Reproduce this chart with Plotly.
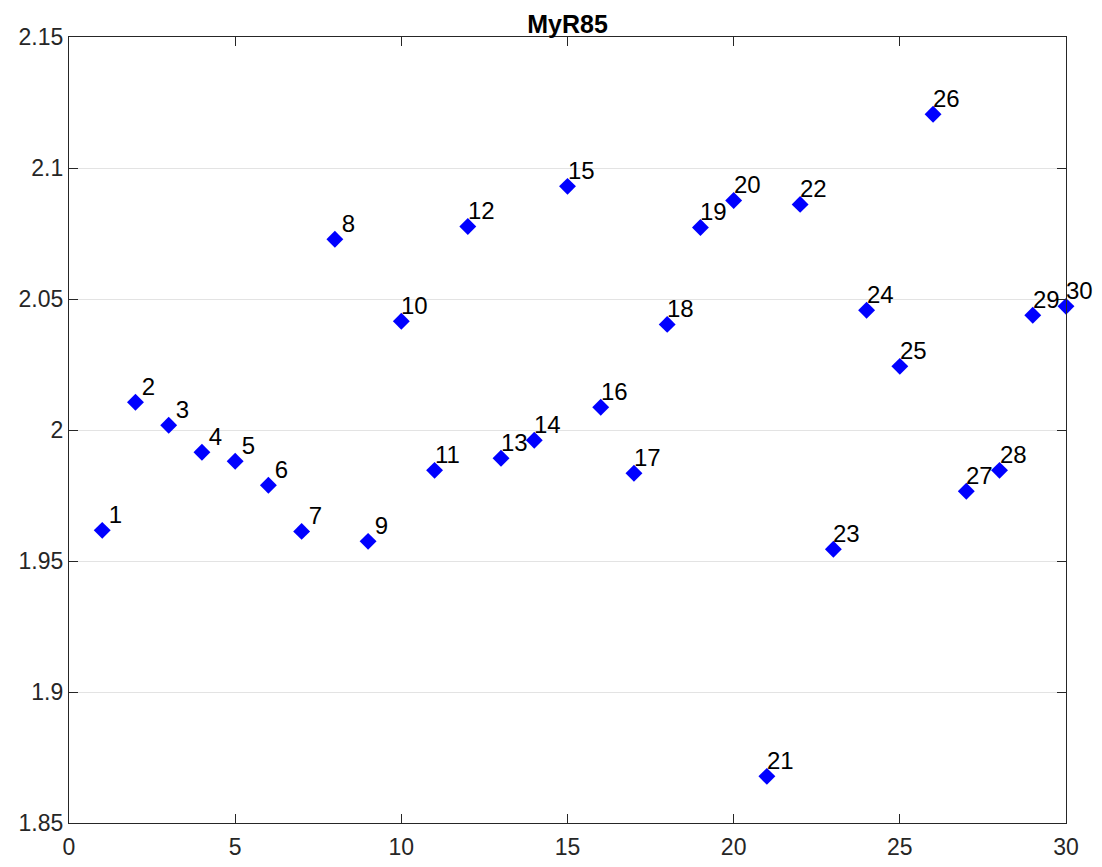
import plotly.graph_objects as go

idx = list(range(1, 31))
values = [1.9617, 2.0106, 2.0018, 1.9915, 1.9881, 1.9789, 1.9613, 2.0728, 1.9575, 2.0415,
          1.9846, 2.0777, 1.9892, 1.9961, 2.0930, 2.0087, 1.9835, 2.0403, 2.0773, 2.0876,
          1.8678, 2.0861, 1.9545, 2.0457, 2.0243, 2.1205, 1.9766, 1.9846, 2.0438, 2.0472]
# labels right-aligned to two characters (single digits carry a leading space)
labels = [("\u00a0" + str(i)) if i < 10 else str(i) for i in idx]
x_ticks = [0, 5, 10, 15, 20, 25, 30]
y_ticks = [1.85, 1.9, 1.95, 2.0, 2.05, 2.1, 2.15]
y_tick_text = ["1.85", "1.9", "1.95", "2", "2.05", "2.1", "2.15"]

fig = go.Figure()
fig.add_trace(go.Scatter(
    x=idx, y=values, mode="markers",
    marker=dict(symbol="diamond", size=13, color="#0000ff", line=dict(width=0)),
    cliponaxis=False, showlegend=False,
))
for xi, yi, t in zip(idx, values, labels):
    fig.add_annotation(x=xi, y=yi, text=t, showarrow=False, xanchor="left", yanchor="bottom",
                       xshift=-2, yshift=0, font=dict(family="Liberation Sans, Arial", size=24, color="black"))

axis_common = dict(showline=True, linecolor="#262626", linewidth=1.3, mirror="ticks",
                   ticks="inside", ticklen=9, tickcolor="#262626", tickwidth=1.3,
                   tickfont=dict(family="Liberation Sans, Arial", size=23, color="#262626"),
                   zeroline=False, automargin=False)
fig.update_xaxes(range=[0, 30], tickvals=x_ticks, showgrid=False, ticklabelstandoff=3, **axis_common)
fig.update_yaxes(range=[1.85, 2.15], tickvals=y_ticks, ticktext=y_tick_text, showgrid=True,
                 gridcolor="#e3e3e3", gridwidth=1, **axis_common)
fig.update_layout(
    width=1102, height=867,
    margin=dict(l=69, r=36, t=37, b=44, autoexpand=False),
    paper_bgcolor="white", plot_bgcolor="white",
    title=dict(text="<b>MyR85</b>", x=0.5, xanchor="center", xref="paper", y=1, yref="paper",
               yanchor="bottom", pad=dict(b=4), automargin=False,
               font=dict(family="Liberation Sans, Arial", size=25, color="black")),
)
fig.write_html("out.html")
